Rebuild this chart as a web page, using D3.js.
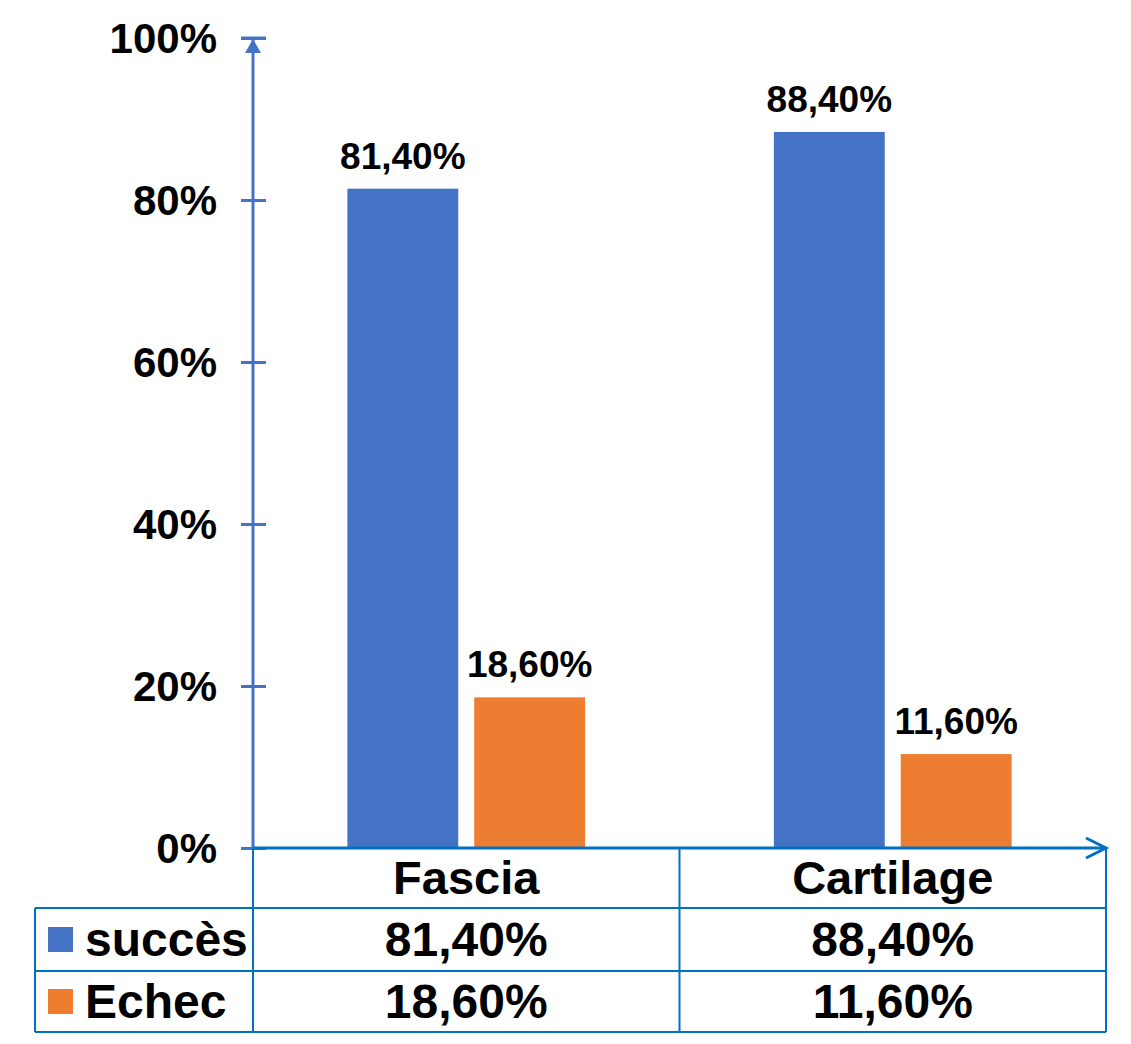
<!DOCTYPE html>
<html>
<head>
<meta charset="utf-8">
<script src="https://cdn.jsdelivr.net/npm/d3@7"></script>
<style>
html,body{margin:0;padding:0;background:#fff;}
svg{display:block;font-family:"Liberation Sans",Arial,Helvetica,sans-serif;font-weight:bold;}
</style>
</head>
<body>
<svg id="chart" width="1131" height="1044"></svg>
<script>
const categories = ["Fascia", "Cartilage"];
const seriesNames = ["succès", "Echec"];
const succesValues = [0.814, 0.884];
const echecValues = [0.186, 0.116];
const valueLabels = {succès: ["81,40%", "88,40%"], Echec: ["18,60%", "11,60%"]};
const tickValues = [0, 0.2, 0.4, 0.6, 0.8, 1.0];
const tickLabels = ["0%", "20%", "40%", "60%", "80%", "100%"];
const colors = ["#4472C4", "#ED7D31"];

const series = [succesValues, echecValues];
const svg = d3.select("#chart");

const x0 = 253, x1 = 1106, yBase = 848, yTop = 38;
const tableLine = "#0070C0";

const x = d3.scaleBand().domain(categories).range([x0, x1]).paddingInner(0).paddingOuter(0);
const y = d3.scaleLinear().domain([0, 1]).range([yBase, yTop]);
const xs = d3.scaleBand().domain(seriesNames).range([0, x.bandwidth()]).paddingInner(0.126).paddingOuter(0.744);

// bars
seriesNames.forEach((s, si) => {
  svg.append("g").selectAll("rect").data(categories).join("rect")
    .attr("x", d => x(d) + xs(s))
    .attr("y", (d, i) => y(series[si][i]))
    .attr("width", xs.bandwidth())
    .attr("height", (d, i) => yBase - y(series[si][i]))
    .attr("fill", colors[si]);
  svg.append("g").selectAll("text").data(categories).join("text")
    .attr("x", d => x(d) + xs(s) + xs.bandwidth() / 2)
    .attr("y", (d, i) => y(series[si][i]) - 20)
    .attr("text-anchor", "middle")
    .attr("font-size", 37)
    .attr("fill", "#000")
    .text((d, i) => valueLabels[s][i]);
});

// y axis
const yAxis = d3.axisLeft(y).tickValues(tickValues).tickFormat((d, i) => tickLabels[i]).tickSize(0);
const gy = svg.append("g").attr("transform", `translate(${x0},0)`).call(yAxis);
gy.select(".domain").remove();
gy.selectAll("text").attr("x", -36).attr("dy", "0.35em").attr("font-size", 42)
  .attr("font-family", "Liberation Sans, Arial, sans-serif").attr("font-weight", "bold").attr("fill", "#000");
gy.selectAll(".tick").append("line").attr("x1", -12).attr("x2", 13).attr("stroke", "#4472C4").attr("stroke-width", 3);
svg.append("line").attr("x1", x0).attr("x2", x0).attr("y1", yBase).attr("y2", yTop)
  .attr("stroke", "#4472C4").attr("stroke-width", 3);
// top cap and arrowhead
svg.append("line").attr("x1", x0 - 12).attr("x2", x0 + 13).attr("y1", yTop).attr("y2", yTop)
  .attr("stroke", "#4472C4").attr("stroke-width", 3);
svg.append("path").attr("d", `M${x0},${yTop + 1} L${x0 - 8},${yTop + 15} L${x0 + 8},${yTop + 15} Z`)
  .attr("fill", "#4472C4");

// table
const rowY = [yBase, 908, 971, 1032];
const tbl = svg.append("g").attr("stroke", tableLine).attr("stroke-width", 2).attr("fill", "none");
tbl.append("line").attr("x1", 35).attr("x2", x1).attr("y1", rowY[1]).attr("y2", rowY[1]);
tbl.append("line").attr("x1", 35).attr("x2", x1).attr("y1", rowY[2]).attr("y2", rowY[2]);
tbl.append("line").attr("x1", 35).attr("x2", x1).attr("y1", rowY[3]).attr("y2", rowY[3]);
tbl.append("line").attr("x1", 35).attr("x2", 35).attr("y1", rowY[1]).attr("y2", rowY[3]);
[x0, x(categories[1]), x1].forEach(v => {
  tbl.append("line").attr("x1", v).attr("x2", v).attr("y1", rowY[0]).attr("y2", rowY[3]);
});
// x axis with arrow
svg.append("line").attr("x1", x0).attr("x2", x1).attr("y1", yBase).attr("y2", yBase)
  .attr("stroke", tableLine).attr("stroke-width", 3);
svg.append("path").attr("d", `M${x1 - 20},${yBase - 10} L${x1},${yBase} L${x1 - 20},${yBase + 10}`)
  .attr("stroke", tableLine).attr("stroke-width", 3).attr("fill", "none");

// category labels
svg.append("g").selectAll("text").data(categories).join("text")
  .attr("x", d => x(d) + x.bandwidth() / 2)
  .attr("y", (rowY[0] + rowY[1]) / 2)
  .attr("dy", "0.35em")
  .attr("text-anchor", "middle")
  .attr("font-size", 47)
  .text(d => d);

// value rows
seriesNames.forEach((s, si) => {
  const cy = (rowY[si + 1] + rowY[si + 2]) / 2;
  svg.append("rect").attr("x", 48).attr("y", cy - 12.5).attr("width", 25).attr("height", 25).attr("fill", colors[si]);
  svg.append("text").attr("x", 85).attr("y", cy).attr("dy", "0.35em").attr("font-size", 48).text(s);
  svg.append("g").selectAll("text").data(categories).join("text")
    .attr("x", d => x(d) + x.bandwidth() / 2)
    .attr("y", cy)
    .attr("dy", "0.35em")
    .attr("text-anchor", "middle")
    .attr("font-size", 48)
    .text((d, i) => valueLabels[s][i]);
});
</script>
</body>
</html>
